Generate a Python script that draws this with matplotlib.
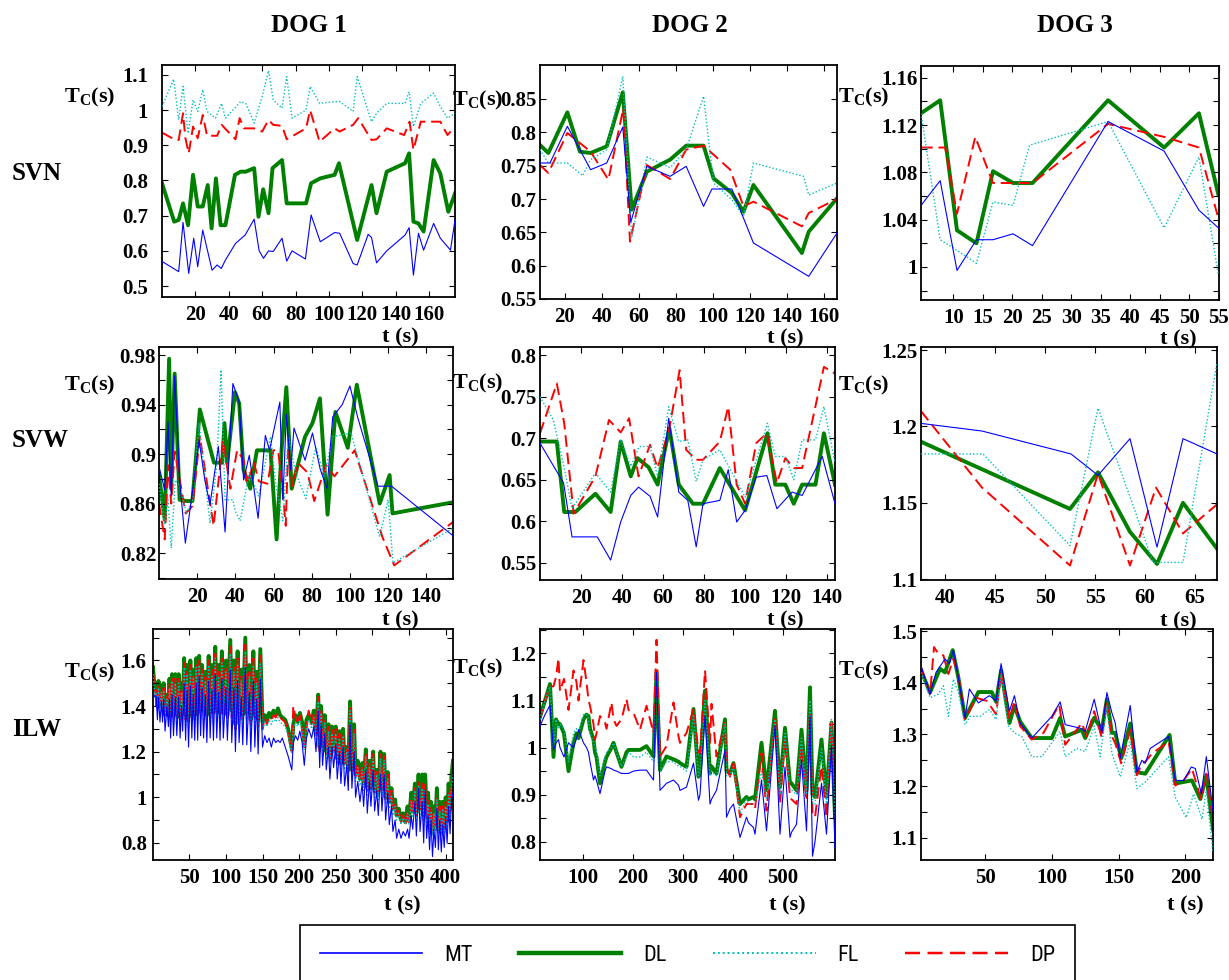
import matplotlib
matplotlib.use("Agg")
import matplotlib.pyplot as plt
from matplotlib.lines import Line2D
from matplotlib.font_manager import FontProperties

W, H = 1229, 980

# ---------------- data ----------------
# DOG 1 / SVN
d1_svn_mt_t = [0, 10, 12.6, 16, 19, 21.4, 24.4, 30, 33, 35.5, 38, 44, 49.8, 55.2, 58.2, 60.8, 63.8, 66.6, 71.9, 74.7,
               77.9, 85.9, 89.3, 94.8, 103.4, 106.4, 114.5, 116.9, 123.5, 125.5, 128.5, 134.6, 145.6, 148, 150.6, 153.6,
               156.7, 162.7, 166.7, 172.8, 175.5]
d1_svn_mt = [0.57, 0.541, 0.681, 0.536, 0.636, 0.555, 0.659, 0.545, 0.56, 0.55, 0.574, 0.621, 0.645, 0.69, 0.6, 0.579,
             0.6, 0.598, 0.636, 0.571, 0.6, 0.577, 0.702, 0.626, 0.652, 0.65, 0.564, 0.56, 0.647, 0.638, 0.566, 0.6,
             0.645, 0.666, 0.531, 0.65, 0.602, 0.678, 0.636, 0.602, 0.688]
d1_svn_dl_t = [0, 7.3, 10, 12.6, 15.6, 18.6, 21.4, 24.4, 27.4, 29.7, 32.3, 35.1, 38, 43.7, 47.1, 50.2, 55.2, 57.8, 60.6,
               63.8, 66.2, 71.9, 74.7, 86.3, 89.3, 94.8, 103.4, 106, 116.9, 125.5, 128.5, 134.6, 145.6, 148, 150.6,
               153.6, 156.7, 162.7, 166.7, 171.5, 175.5]
d1_svn_dl = [0.792, 0.683, 0.688, 0.735, 0.673, 0.816, 0.726, 0.726, 0.787, 0.664, 0.806, 0.673, 0.673, 0.816, 0.825,
             0.825, 0.835, 0.697, 0.775, 0.707, 0.835, 0.858, 0.735, 0.735, 0.792, 0.806, 0.816, 0.849, 0.631, 0.787,
             0.707, 0.825, 0.849, 0.877, 0.683, 0.678, 0.655, 0.858, 0.82, 0.711, 0.763]
d1_svn_dp_t = [0, 8, 10, 12.6, 14, 16, 18.6, 21.4, 24.4, 27, 33, 35.7, 44, 46.5, 49, 55.2, 60, 63.8, 66.6, 71.9, 74.7,
               86.3, 88.7, 94.4, 103.4, 106.4, 114.5, 117.5, 125.5, 128.5, 134.6, 145, 148.3, 150.6, 155, 166.7, 171,
               175.5]
d1_svn_dp = [0.936, 0.915, 0.915, 0.991, 0.920, 0.877, 0.953, 0.920, 0.986, 0.927, 0.927, 0.958, 0.917, 0.977, 0.948,
             0.948, 0.939, 0.972, 0.958, 0.955, 0.917, 0.948, 1.0, 0.910, 0.948, 0.939, 0.958, 0.977, 0.915, 0.917,
             0.948, 0.929, 0.967, 0.887, 0.967, 0.967, 0.929, 0.953]
d1_svn_fl_t = [0, 7, 10, 12.6, 15.6, 18.6, 21.4, 24.4, 27, 32, 35.7, 38, 47.1, 50.2, 55.2, 60, 63.8, 66.6, 71.9, 74.7,
               77.9, 86.3, 88.7, 94.4, 103.4, 106.4, 114.5, 116.9, 125.5, 128.5, 134.6, 145.6, 148, 150.6, 155, 162.7,
               166.7, 171, 175.5]
d1_svn_fl = [1.01, 1.088, 0.972, 1.067, 0.934, 1.029, 0.996, 1.058, 0.996, 0.977, 1.019, 0.977, 1.024, 1.019, 0.963,
             1.039, 1.112, 1.029, 1.005, 1.095, 0.977, 1.0, 1.067, 1.019, 1.024, 1.024, 0.996, 1.095, 0.967, 0.991,
             1.019, 1.019, 1.052, 0.953, 1.019, 1.048, 1.01, 0.977, 0.99]

# DOG 2 / SVN
d2_svn_mt_t = [6.5, 11.9, 21.3, 33.9, 42.6, 51.3, 55.6, 64.3, 76.9, 85.6, 95, 99.5, 110.3, 122, 151.9, 167.2]
d2_svn_mt = [0.754, 0.754, 0.809, 0.744, 0.754, 0.808, 0.665, 0.749, 0.734, 0.749, 0.689, 0.715, 0.715, 0.634, 0.584,
             0.649]
d2_svn_dl_t = [6.5, 11, 21.3, 28.1, 33.9, 42.6, 51.3, 56.1, 64.3, 76.9, 85.6, 95, 100.4, 110.3, 116.6, 122, 148.2,
               151.9, 167.2]
d2_svn_dl = [0.781, 0.769, 0.83, 0.771, 0.769, 0.779, 0.86, 0.684, 0.741, 0.759, 0.78, 0.78, 0.731, 0.709, 0.681,
             0.721, 0.619, 0.651, 0.701]
d2_svn_dp_t = [6.5, 11, 21.3, 33.9, 43.5, 51.6, 55.2, 64.3, 76.9, 85.6, 95, 109.4, 116.6, 122, 148.2, 151.9, 167.2]
d2_svn_dp = [0.751, 0.739, 0.799, 0.771, 0.729, 0.836, 0.636, 0.751, 0.73, 0.774, 0.78, 0.744, 0.689, 0.696, 0.659,
             0.679, 0.7]
d2_svn_fl_t = [6.5, 11, 21.3, 29.6, 33.9, 42.6, 51.3, 56.1, 64.3, 76.9, 85.6, 95, 100.4, 110.3, 116.6, 122, 149.1,
               151.9, 167.2]
d2_svn_fl = [0.774, 0.754, 0.754, 0.735, 0.759, 0.774, 0.884, 0.642, 0.763, 0.747, 0.774, 0.854, 0.724, 0.699, 0.674,
             0.754, 0.734, 0.706, 0.724]

# DOG 3 / SVN
d3_svn_mt_t = [4.5, 7.75, 10.6, 13.9, 16.7, 20.1, 23.4, 36.2, 45.7, 51.6, 54.9]
d3_svn_mt = [1.052, 1.073, 0.997, 1.023, 1.023, 1.028, 1.018, 1.123, 1.098, 1.048, 1.033]
d3_svn_dl_t = [4.5, 7.75, 10.6, 13.9, 16.7, 20.1, 23.4, 36.2, 45.7, 51.6, 54.9]
d3_svn_dl = [1.130, 1.141, 1.031, 1.02, 1.081, 1.071, 1.071, 1.141, 1.101, 1.13, 1.061]
d3_svn_dp_t = [4.5, 8.6, 10.6, 13.7, 16.7, 23.4, 36.2, 45.7, 51.6, 54.9]
d3_svn_dp = [1.101, 1.101, 1.045, 1.110, 1.071, 1.071, 1.121, 1.110, 1.101, 1.041]
d3_svn_fl_t = [4.5, 7.75, 10.6, 13.9, 16.7, 20.1, 22.9, 36.2, 45.7, 51.6, 54.9]
d3_svn_fl = [1.130, 1.023, 1.014, 1.003, 1.055, 1.052, 1.103, 1.123, 1.033, 1.093, 0.993]

# DOG 1 / SVW
d1_svw_mt_t = [0, 3, 4.7, 6.4, 8.2, 10.8, 13.8, 17.4, 21, 24, 26.7, 31.1, 34.6, 38.7, 42, 44.3, 47.3, 51.9, 55.7,
               57.9, 63.3, 64.9, 66.7, 69, 70.7, 76.5, 80.4, 84.4, 88, 91, 96, 100, 104, 114.7, 121.8, 154]
d1_svw_mt = [0.890, 0.871, 0.926, 0.866, 0.963, 0.879, 0.828, 0.868, 0.911, 0.879, 0.859, 0.906, 0.837, 0.957, 0.942,
             0.879, 0.899, 0.848, 0.915, 0.903, 0.942, 0.863, 0.932, 0.887, 0.921, 0.895, 0.917, 0.888, 0.872, 0.93,
             0.94, 0.955, 0.93, 0.874, 0.874, 0.834]
d1_svw_dl_t = [0, 3, 5.3, 6.4, 8.2, 10.8, 14.4, 17.5, 21.4, 28.8, 33.1, 34.3, 35.7, 39.8, 42, 44.3, 47.8, 51.3, 58.4,
               61.6, 64.2, 66.7, 69.5, 76.5, 80.4, 84.3, 88.3, 92.4, 98.9, 103.6, 115.6, 120.8, 122.3, 154]
d1_svw_dl = [0.883, 0.847, 0.977, 0.872, 0.965, 0.863, 0.862, 0.862, 0.936, 0.893, 0.893, 0.925, 0.893, 0.950, 0.941,
             0.887, 0.872, 0.903, 0.903, 0.831, 0.903, 0.954, 0.872, 0.914, 0.925, 0.945, 0.851, 0.934, 0.905, 0.956,
             0.86, 0.883, 0.852, 0.861]
d1_svw_dp_t = [0, 3, 4.7, 6.4, 8.2, 14, 17.5, 21.4, 28.6, 33.5, 37.4, 40.9, 44.4, 46.2, 49.7, 52.3, 56.8, 59.9, 62.4,
               65.2, 66.4, 67.6, 69.9, 72.6, 77.8, 81.3, 87.5, 91.9, 102.5, 117, 123.2, 154]
d1_svw_dp = [0.86, 0.831, 0.891, 0.86, 0.902, 0.852, 0.858, 0.914, 0.842, 0.911, 0.872, 0.903, 0.895, 0.876, 0.893,
             0.878, 0.876, 0.903, 0.903, 0.863, 0.842, 0.903, 0.874, 0.893, 0.885, 0.862, 0.891, 0.882, 0.903, 0.833,
             0.81, 0.845]
d1_svw_fl_t = [0, 3, 4.7, 6.4, 8.5, 10.8, 14.4, 17.5, 21, 26.7, 30.2, 32.5, 34.6, 38.7, 39.9, 42.5, 47.3, 52.2, 58.4,
               61.3, 64.9, 67.7, 71.6, 76.9, 82.1, 86.5, 90.9, 100.6, 115.6, 120, 122.6, 154]
d1_svw_fl = [0.876, 0.843, 0.863, 0.824, 0.879, 0.875, 0.852, 0.862, 0.925, 0.844, 0.89, 0.968, 0.863, 0.863, 0.854,
             0.846, 0.885, 0.866, 0.914, 0.874, 0.846, 0.914, 0.885, 0.864, 0.906, 0.882, 0.914, 0.917, 0.833, 0.863,
             0.812, 0.84]

# DOG 2 / SVW
d2_svw_mt_t = [0, 11.5, 15.6, 27.9, 34.4, 39.3, 44.2, 48, 53.6, 57.3, 62.7, 67.6, 72, 76.1, 79.4, 87.6, 91.7, 95.8,
               99.9, 105.3, 110.5, 115.4, 122.8, 127.7, 137.5, 143.7]
d2_svw_mt = [0.694, 0.646, 0.581, 0.581, 0.553, 0.599, 0.631, 0.641, 0.630, 0.605, 0.724, 0.635, 0.625, 0.569, 0.621,
             0.625, 0.662, 0.599, 0.613, 0.653, 0.655, 0.615, 0.635, 0.631, 0.678, 0.621]
d2_svw_dl_t = [0, 8.2, 11.8, 17.2, 27, 34.4, 39.3, 44.2, 47.5, 52.9, 57.3, 63, 67.6, 74.5, 79.4, 87.6, 94.1, 99.9,
               110.8, 114.6, 119.5, 123.6, 127.7, 134.2, 138.3, 143.7]
d2_svw_dl = [0.696, 0.696, 0.611, 0.611, 0.633, 0.611, 0.696, 0.654, 0.676, 0.665, 0.644, 0.712, 0.644, 0.621, 0.621,
             0.664, 0.637, 0.613, 0.706, 0.644, 0.644, 0.621, 0.644, 0.644, 0.706, 0.644]
d2_svw_dp_t = [0, 8.2, 11.8, 16.4, 27, 33.6, 39.3, 43.4, 48, 53.6, 57.3, 63, 68, 71.2, 76.1, 79.4, 87.6, 91.7, 95.8,
               99.9, 105.3, 110.5, 115.4, 119.5, 123.6, 127.7, 138.3, 143.7]
d2_svw_dp = [0.706, 0.766, 0.718, 0.609, 0.654, 0.722, 0.707, 0.724, 0.654, 0.692, 0.664, 0.712, 0.782, 0.686, 0.674,
             0.674, 0.696, 0.738, 0.644, 0.621, 0.694, 0.706, 0.646, 0.676, 0.664, 0.664, 0.786, 0.778]
d2_svw_fl_t = [0, 6.5, 11.5, 15.6, 27, 34.4, 39.3, 44.2, 48.3, 53.6, 57.3, 62.7, 67.6, 72, 76.1, 79.4, 87.6, 94.1,
               99.9, 110.8, 114.6, 119.5, 123.6, 127.7, 134.2, 138.3, 143.7]
d2_svw_fl = [0.75, 0.722, 0.668, 0.615, 0.658, 0.635, 0.698, 0.666, 0.69, 0.69, 0.654, 0.738, 0.696, 0.698, 0.648,
             0.674, 0.686, 0.656, 0.629, 0.718, 0.678, 0.678, 0.65, 0.698, 0.698, 0.738, 0.67]

# DOG 3 / SVW
d3_svw_mt_t = [37.6, 43.7, 52.6, 55.3, 58.5, 61.2, 63.8, 67.2]
d3_svw_mt = [1.202, 1.197, 1.182, 1.168, 1.192, 1.121, 1.192, 1.182]
d3_svw_dl_t = [37.6, 52.5, 55.3, 58.5, 61.2, 63.8, 67.2]
d3_svw_dl = [1.19, 1.146, 1.17, 1.131, 1.110, 1.15, 1.12]
d3_svw_dp_t = [37.6, 43.7, 52.5, 55.3, 58.5, 61.1, 63.8, 67.2]
d3_svw_dp = [1.21, 1.16, 1.109, 1.169, 1.109, 1.16, 1.13, 1.149]
d3_svw_fl_t = [37.6, 43.8, 52.5, 55.3, 58.5, 60.8, 63.8, 67.2]
d3_svw_fl = [1.182, 1.182, 1.122, 1.212, 1.154, 1.111, 1.111, 1.242]

# DOG 1 / ILW (all four methods share the beat times)
d1_ilw_t = [0.5, 3, 5, 6.5, 8, 10, 12, 13.5, 15, 17, 19.5, 21.5, 23, 24.5, 26.5, 28.5, 31, 33, 35.5, 37.5,
            39.5, 41, 43, 45, 47, 49, 51.5, 53.5, 55.5, 57.5, 59.5, 61.5, 63.5, 65.5, 67.5, 69.5, 72, 74, 76.5, 78.5,
            81, 83, 85.5, 87.5, 90, 92, 94.5, 96.5, 100, 102, 106, 108, 111, 113, 116, 118, 121, 123, 126.5, 128.5,
            132, 134, 137.5, 139.5, 142, 144, 147, 150,
            153, 156, 159, 162, 165, 168, 171, 174, 177, 181, 185, 190, 192, 195, 198, 201, 204, 207, 210, 213,
            217, 220, 223, 226, 228, 230, 232, 235, 237, 240, 242, 245, 247, 250, 252, 255, 257, 260, 262, 265,
            267, 269.5, 272, 275, 277, 280, 283, 286, 288, 291, 293, 296, 298, 301, 303, 306, 308, 311, 313, 316,
            318, 321, 323, 326, 328, 331, 333, 336, 339, 342, 345, 348, 350, 353, 355, 358, 360, 363, 365, 368,
            370, 372, 374, 376, 378, 380, 382, 384, 386, 388, 390, 392, 394, 396, 398, 400, 402, 404, 406, 408, 410]
d1_ilw_dl = [1.57, 1.47, 1.48, 1.40, 1.51, 1.41, 1.49, 1.40, 1.50, 1.36, 1.45, 1.38, 1.52, 1.36, 1.54, 1.37, 1.54, 1.36,
             1.54, 1.35, 1.50, 1.38, 1.61, 1.36, 1.58, 1.35, 1.60, 1.38, 1.56, 1.36, 1.61, 1.37, 1.62, 1.40, 1.58, 1.38,
             1.55, 1.36, 1.62, 1.38, 1.58, 1.37, 1.66, 1.39, 1.58, 1.37, 1.64, 1.38, 1.60, 1.36, 1.69, 1.38, 1.60, 1.32,
             1.64, 1.37, 1.56, 1.36, 1.70, 1.37, 1.58, 1.34, 1.64, 1.36, 1.55, 1.34, 1.65, 1.33,
             1.36, 1.34, 1.37, 1.35, 1.38, 1.36, 1.39, 1.36, 1.35, 1.34, 1.30, 1.21, 1.32, 1.36, 1.33, 1.37, 1.33, 1.24,
             1.34, 1.36, 1.33, 1.38, 1.28, 1.45, 1.22, 1.40, 1.24, 1.36, 1.20, 1.32, 1.18, 1.31, 1.22, 1.31, 1.17, 1.29,
             1.15, 1.30, 1.15, 1.22, 1.12, 1.42, 1.12, 1.32, 1.10, 1.16, 1.08, 1.15, 1.06, 1.21, 1.04, 1.16, 1.05, 1.20,
             1.03, 1.12, 1.02, 1.20, 1.04, 1.19, 1.00, 1.11, 0.98, 1.04, 0.95, 0.99, 0.92, 0.95, 0.90, 0.93, 0.89, 0.96,
             0.90, 1.02, 0.94, 1.06, 0.93, 1.10, 0.95, 1.10, 0.92, 1.10, 0.94, 1.02, 0.87, 0.98, 0.86, 0.96, 0.88, 1.04,
             0.86, 0.98, 0.85, 0.98, 0.87, 1.00, 0.90, 1.06, 0.95, 1.10, 1.16]
d1_ilw_dp = [1.55, 1.46, 1.47, 1.39, 1.49, 1.40, 1.47, 1.38, 1.48, 1.35, 1.44, 1.36, 1.50, 1.35, 1.52, 1.35, 1.52, 1.34,
             1.52, 1.33, 1.48, 1.36, 1.59, 1.34, 1.55, 1.33, 1.58, 1.35, 1.54, 1.34, 1.59, 1.35, 1.60, 1.38, 1.56, 1.36,
             1.53, 1.34, 1.60, 1.35, 1.56, 1.35, 1.63, 1.36, 1.55, 1.35, 1.61, 1.35, 1.58, 1.34, 1.66, 1.35, 1.57, 1.30,
             1.61, 1.34, 1.53, 1.34, 1.67, 1.34, 1.55, 1.32, 1.61, 1.33, 1.52, 1.31, 1.62, 1.30,
             1.35, 1.32, 1.35, 1.34, 1.36, 1.35, 1.37, 1.35, 1.34, 1.33, 1.29, 1.20, 1.40, 1.35, 1.32, 1.36, 1.32, 1.22,
             1.33, 1.38, 1.32, 1.37, 1.27, 1.44, 1.20, 1.39, 1.22, 1.34, 1.19, 1.31, 1.16, 1.30, 1.20, 1.30, 1.15, 1.28,
             1.14, 1.28, 1.14, 1.21, 1.11, 1.40, 1.11, 1.30, 1.08, 1.15, 1.07, 1.14, 1.05, 1.20, 1.03, 1.15, 1.04, 1.19,
             1.02, 1.11, 1.01, 1.19, 1.03, 1.18, 0.99, 1.10, 0.97, 1.03, 0.94, 0.97, 0.91, 0.94, 0.89, 0.92, 0.88, 0.94,
             0.89, 1.00, 0.92, 1.04, 0.92, 1.07, 0.93, 1.06, 0.90, 1.06, 0.91, 0.99, 0.85, 0.96, 0.84, 0.94, 0.86, 1.01,
             0.85, 0.96, 0.84, 0.96, 0.85, 0.98, 0.88, 1.03, 0.93, 1.07, 1.12]
d1_ilw_fl = [1.54, 1.45, 1.46, 1.38, 1.48, 1.39, 1.46, 1.37, 1.47, 1.34, 1.43, 1.35, 1.48, 1.33, 1.51, 1.33, 1.50, 1.32,
             1.50, 1.31, 1.46, 1.34, 1.57, 1.31, 1.54, 1.30, 1.56, 1.33, 1.52, 1.31, 1.57, 1.32, 1.58, 1.35, 1.54, 1.33,
             1.51, 1.31, 1.58, 1.33, 1.53, 1.32, 1.61, 1.33, 1.53, 1.32, 1.59, 1.32, 1.55, 1.31, 1.63, 1.32, 1.55, 1.27,
             1.58, 1.31, 1.51, 1.31, 1.64, 1.31, 1.53, 1.29, 1.58, 1.30, 1.50, 1.29, 1.59, 1.29,
             1.33, 1.31, 1.34, 1.32, 1.35, 1.33, 1.35, 1.33, 1.32, 1.31, 1.27, 1.19, 1.30, 1.33, 1.31, 1.34, 1.30, 1.21,
             1.31, 1.34, 1.30, 1.35, 1.25, 1.42, 1.19, 1.37, 1.20, 1.33, 1.17, 1.29, 1.15, 1.28, 1.19, 1.28, 1.14, 1.26,
             1.12, 1.27, 1.12, 1.20, 1.09, 1.38, 1.10, 1.28, 1.07, 1.13, 1.05, 1.12, 1.03, 1.18, 1.01, 1.13, 1.02, 1.17,
             1.00, 1.10, 0.99, 1.17, 1.01, 1.16, 0.97, 1.08, 0.95, 1.01, 0.92, 0.96, 0.90, 0.93, 0.88, 0.91, 0.88, 0.93,
             0.88, 0.98, 0.91, 1.03, 0.90, 1.05, 0.91, 1.04, 0.88, 1.03, 0.89, 0.97, 0.84, 0.94, 0.83, 0.93, 0.85, 0.99,
             0.84, 0.94, 0.83, 0.95, 0.84, 0.96, 0.86, 1.01, 0.91, 1.05, 1.10]
d1_ilw_mt = [1.46, 1.44, 1.44, 1.34, 1.44, 1.33, 1.42, 1.33, 1.43, 1.29, 1.40, 1.31, 1.43, 1.26, 1.45, 1.27, 1.44, 1.27,
             1.44, 1.26, 1.40, 1.29, 1.50, 1.25, 1.47, 1.22, 1.49, 1.26, 1.45, 1.25, 1.50, 1.25, 1.53, 1.27, 1.48, 1.26,
             1.45, 1.24, 1.51, 1.26, 1.47, 1.25, 1.54, 1.26, 1.46, 1.25, 1.52, 1.26, 1.48, 1.25, 1.56, 1.24, 1.48, 1.20,
             1.51, 1.24, 1.44, 1.23, 1.57, 1.23, 1.46, 1.20, 1.51, 1.22, 1.43, 1.19, 1.52, 1.22,
             1.27, 1.24, 1.26, 1.22, 1.26, 1.24, 1.25, 1.24, 1.26, 1.22, 1.18, 1.12, 1.24, 1.27, 1.25, 1.29, 1.24, 1.14,
             1.26, 1.30, 1.26, 1.31, 1.20, 1.38, 1.13, 1.32, 1.14, 1.28, 1.12, 1.22, 1.08, 1.22, 1.13, 1.23, 1.08, 1.20,
             1.06, 1.22, 1.05, 1.14, 1.03, 1.32, 1.04, 1.20, 1.00, 1.07, 0.98, 1.06, 0.96, 1.12, 0.93, 1.07, 0.96, 1.12,
             0.94, 1.03, 0.92, 1.10, 0.94, 1.10, 0.90, 1.02, 0.88, 0.96, 0.85, 0.90, 0.82, 0.86, 0.82, 0.85, 0.83, 0.86,
             0.82, 0.92, 0.86, 0.98, 0.83, 1.04, 0.85, 0.98, 0.80, 1.03, 0.82, 0.92, 0.77, 0.90, 0.74, 0.86, 0.78, 0.95,
             0.77, 0.90, 0.76, 0.88, 0.78, 0.91, 0.80, 0.96, 0.84, 0.99, 1.02]

# DOG 2 / ILW
d2_ilw_t = [14, 24, 34, 41, 46, 51, 54, 62, 71, 81, 87, 91, 101, 107, 111, 114, 121, 124, 127, 134,
            144, 147, 157, 161, 167, 177, 187, 191, 201, 214, 227, 241, 247, 254, 267, 281, 291, 294, 307, 321,
            331, 334, 344, 354, 357, 367, 384, 387, 394, 401, 414, 427, 431, 441, 444, 457, 467, 484, 494, 504,
            514, 517, 527, 537, 547, 554, 559, 564, 577, 587, 597, 604]
d2_ilw_dl = [1.065, 1.10, 1.135, 0.98, 1.06, 1.05, 1.05, 1.03, 0.95, 1.01, 1.03, 1.02, 1.06, 1.07, 1.067, 1.04, 1.017,
             0.99, 0.98, 0.924, 0.97, 0.98, 1.00, 1.01, 0.99, 0.959, 0.99, 0.995, 0.995, 0.995, 1.003, 0.981, 1.16,
             0.952, 0.981, 0.975, 0.97, 0.967, 0.959, 1.082, 0.938, 0.95, 1.121, 0.945, 0.96, 0.945, 1.06, 0.95, 0.945,
             0.967, 0.88, 0.895, 0.89, 0.895, 0.89, 1.01, 0.909, 1.078, 0.916, 1.042, 0.924, 0.924, 0.909, 1.038,
             0.909, 1.128, 0.90, 0.895, 1.017, 0.895, 1.053, 0.852]
d2_ilw_dp = [1.06, 1.10, 1.13, 1.13, 1.15, 1.19, 1.12, 1.146, 1.08, 1.164, 1.139, 1.10, 1.186, 1.139, 1.10, 1.089,
             1.05, 1.017, 1.03, 1.067, 1.053, 1.04, 1.096, 1.06, 1.046, 1.06, 1.103, 1.08, 1.074, 1.038, 1.089, 1.031,
             1.229, 0.981, 1.003, 1.096, 1.024, 1.01, 1.031, 1.082, 0.99, 0.988, 1.164, 1.01, 1.093, 0.981, 1.053,
             0.96, 0.938, 0.967, 0.852, 0.88, 0.88, 0.88, 0.87, 0.988, 0.866, 1.067, 0.88, 1.017, 0.895, 0.89, 0.88,
             1.003, 0.887, 1.074, 0.86, 0.852, 0.96, 0.852, 1.053, 0.837]
d2_ilw_fl = [1.06, 1.10, 1.13, 1.00, 1.06, 1.04, 1.05, 1.04, 0.97, 1.03, 1.04, 1.03, 1.07, 1.07, 1.06, 1.03, 1.01, 1.0,
             0.99, 0.94, 0.98, 0.99, 1.00, 1.01, 0.99, 0.96, 0.98, 0.99, 0.98, 0.98, 0.99, 0.97, 1.16, 0.95, 0.97, 0.97,
             0.96, 0.96, 0.95, 1.07, 0.94, 0.945, 1.10, 0.94, 0.95, 0.94, 1.05, 0.94, 0.94, 0.96, 0.86, 0.89, 0.88,
             0.88, 0.88, 0.95, 0.89, 1.06, 0.90, 1.03, 0.91, 0.91, 0.90, 1.02, 0.90, 1.10, 0.88, 0.88, 1.00, 0.88,
             1.06, 0.85]
d2_ilw_mt = [1.046, 1.07, 1.09, 0.995, 1.01, 1.017, 1.00, 0.98, 1.01, 1.00, 1.02, 1.038, 1.01, 1.00, 0.99, 0.97,
             0.931, 0.94, 0.93, 0.902, 0.95, 0.959, 0.955, 0.952, 0.95, 0.945, 0.945, 0.945, 0.95, 0.952, 0.952,
             0.931, 1.16, 0.909, 0.924, 0.931, 0.92, 0.909, 0.916, 0.967, 0.888, 0.90, 1.067, 0.88, 0.89, 0.909,
             0.995, 0.852, 0.87, 0.88, 0.809, 0.852, 0.84, 0.83, 0.816, 0.931, 0.823, 1.046, 0.816, 0.959, 0.809,
             0.82, 0.837, 0.974, 0.823, 1.067, 0.769, 0.80, 0.924, 0.816, 1.003, 0.787]

# DOG 3 / ILW
d3_ilw_mt_t = [2, 8.75, 13.25, 20, 23.25, 26.25, 30, 35, 38.25, 45, 53.25, 58.25, 62, 68.25, 72, 76.25, 85, 100,
               106.25, 110, 121.25, 125, 131.75, 137.5, 141.25, 145, 147.5, 151.25, 158.75, 163.75, 167.5, 170,
               173.75, 187.5, 192.5, 198.75, 204.5, 207.5, 212, 215.75, 220.75]
d3_ilw_mt = [1.433, 1.378, 1.420, 1.446, 1.437, 1.463, 1.41, 1.332, 1.388, 1.361, 1.375, 1.365, 1.437, 1.345, 1.375,
             1.322, 1.293, 1.335, 1.363, 1.319, 1.312, 1.306, 1.368, 1.303, 1.381, 1.342, 1.322, 1.254, 1.356, 1.227,
             1.250, 1.244, 1.273, 1.296, 1.211, 1.211, 1.237, 1.234, 1.185, 1.257, 1.152]
d3_ilw_dl_t = [2, 8.75, 16.25, 20, 25.75, 30, 35, 45, 55, 58.25, 62, 68.25, 72, 76.25, 85, 100, 106.25, 110, 122.5,
               125, 131.75, 137.5, 141.25, 145, 147.5, 152, 158.75, 163.75, 170, 188.25, 192.5, 198.75, 205, 211.25,
               215.75, 220.75]
d3_ilw_dl = [1.424, 1.381, 1.427, 1.42, 1.463, 1.41, 1.332, 1.382, 1.382, 1.363, 1.424, 1.322, 1.355, 1.325, 1.293,
             1.293, 1.332, 1.296, 1.309, 1.293, 1.332, 1.309, 1.368, 1.303, 1.303, 1.254, 1.321, 1.227, 1.224, 1.299,
             1.205, 1.208, 1.211, 1.175, 1.221, 1.116]
d3_ilw_dp_t = [2, 8.75, 11.75, 15, 18.75, 22.5, 26.25, 30, 35, 43.25, 51.25, 58.25, 62, 68.25, 72, 76.25, 85, 93.75,
               105.5, 110, 122.5, 126.25, 131.75, 137.5, 140.75, 145, 147.5, 152, 158.75, 163.75, 167.5, 170, 175,
               187.5, 192.5, 196.25, 198.75, 205, 211.75, 215.75, 220.75]
d3_ilw_dp = [1.43, 1.378, 1.469, 1.456, 1.453, 1.417, 1.446, 1.414, 1.329, 1.371, 1.365, 1.339, 1.42, 1.329, 1.365,
             1.316, 1.29, 1.303, 1.358, 1.28, 1.322, 1.296, 1.345, 1.293, 1.365, 1.296, 1.283, 1.244, 1.309, 1.221,
             1.244, 1.247, 1.263, 1.286, 1.201, 1.208, 1.211, 1.234, 1.175, 1.224, 1.133]
d3_ilw_fl_t = [2, 8.75, 15, 18.75, 22.5, 26.25, 30, 35, 38.75, 46.25, 53.25, 58.25, 62, 67.5, 72, 77.5, 85, 92.5,
               106.25, 110, 118.75, 125, 131.75, 136.25, 141.25, 145, 151.25, 158.75, 163.75, 170, 187.5, 192.5,
               200.75, 206.25, 212.5, 215.75, 220.75]
d3_ilw_fl = [1.42, 1.371, 1.378, 1.394, 1.335, 1.407, 1.381, 1.319, 1.335, 1.335, 1.348, 1.329, 1.417, 1.316, 1.303,
             1.296, 1.257, 1.257, 1.306, 1.257, 1.273, 1.267, 1.316, 1.257, 1.355, 1.263, 1.218, 1.286, 1.195, 1.208,
             1.257, 1.178, 1.139, 1.185, 1.136, 1.192, 1.071]

dogs = ["DOG 1", "DOG 2", "DOG 3"]
rows = ["SVN", "SVW", "ILW"]
methods = ["MT", "DL", "FL", "DP"]

# ---------------- styles / layout ----------------
STYLE = {
    "MT": dict(color="#0000ff", lw=0.8, ls="-", zorder=4),
    "DL": dict(color="#008000", lw=2.8, ls="-", zorder=1),
    "FL": dict(color="#00bfbf", lw=1.0, ls=(0, (1, 1.5)), zorder=3),
    "DP": dict(color="#ff0000", lw=1.4, ls=(0, (6, 3)), zorder=2),
}

# axes boxes in pixels: left, top, right, bottom
boxes = [
    [(162, 65, 455, 297), (540, 65, 837, 299), (921, 66, 1219, 300)],
    [(159, 347, 453, 579), (540, 347, 835, 580), (921, 347, 1217, 580)],
    [(153, 629, 453, 860), (540, 629, 835, 860), (921, 629, 1213, 860)],
]


def frac(x, y):
    return x / W, 1 - y / H


def draw_panel(ax, series, xlim, ylim, xt, yt_major, yt_minor, ypad):
    for m in ["DL", "DP", "FL", "MT"]:
        t, v = series[m]
        st = STYLE[m]
        ax.plot(t, v, color=st["color"], lw=st["lw"], ls=st["ls"], zorder=st["zorder"])
    ax.set_xlim(*xlim)
    ax.set_ylim(*ylim)
    ax.set_xticks(xt, labels=[f"{v:g}" for v in xt])
    ax.set_yticks(yt_major, labels=[f"{v:g}" for v in yt_major])
    ax.set_yticks(yt_minor, minor=True)
    ax.tick_params(which="both", direction="in", top=True, right=True, length=4, width=0.8)
    ax.tick_params(axis="x", labelsize=15, pad=6)
    ax.tick_params(axis="y", labelsize=15, pad=ypad)
    for sp in ax.spines.values():
        sp.set_linewidth(1.3)


def main():
    plt.rcParams["font.family"] = ["Liberation Serif", "DejaVu Serif"]
    plt.rcParams["font.weight"] = "bold"
    plt.rcParams["mathtext.fontset"] = "custom"
    plt.rcParams["mathtext.bf"] = "Liberation Serif:bold"
    plt.rcParams["mathtext.rm"] = "Liberation Serif:bold"

    fig = plt.figure(figsize=(W / 100, H / 100), dpi=100)

    panels = [
        [
            dict(series={"MT": (d1_svn_mt_t, d1_svn_mt), "DL": (d1_svn_dl_t, d1_svn_dl),
                         "FL": (d1_svn_fl_t, d1_svn_fl), "DP": (d1_svn_dp_t, d1_svn_dp)},
                 xlim=(0, 175.5), ylim=(0.469, 1.128), xt=list(range(20, 161, 20)),
                 ym=[0.5, 0.6, 0.7, 0.8, 0.9, 1.0, 1.1], yn=[], ypad=10),
            dict(series={"MT": (d2_svn_mt_t, d2_svn_mt), "DL": (d2_svn_dl_t, d2_svn_dl),
                         "FL": (d2_svn_fl_t, d2_svn_fl), "DP": (d2_svn_dp_t, d2_svn_dp)},
                 xlim=(6.5, 167.2), ylim=(0.55, 0.901), xt=list(range(20, 161, 20)),
                 ym=[0.55, 0.6, 0.65, 0.7, 0.75, 0.8, 0.85], yn=[], ypad=2.5),
            dict(series={"MT": (d3_svn_mt_t, d3_svn_mt), "DL": (d3_svn_dl_t, d3_svn_dl),
                         "FL": (d3_svn_fl_t, d3_svn_fl), "DP": (d3_svn_dp_t, d3_svn_dp)},
                 xlim=(4.5, 54.9), ylim=(0.972, 1.17), xt=list(range(10, 56, 5)),
                 ym=[1.0, 1.04, 1.08, 1.12, 1.16], yn=[0.98, 1.02, 1.06, 1.10, 1.14], ypad=2.5),
        ],
        [
            dict(series={"MT": (d1_svw_mt_t, d1_svw_mt), "DL": (d1_svw_dl_t, d1_svw_dl),
                         "FL": (d1_svw_fl_t, d1_svw_fl), "DP": (d1_svw_dp_t, d1_svw_dp)},
                 xlim=(0, 154), ylim=(0.799, 0.9865), xt=list(range(20, 141, 20)),
                 ym=[0.82, 0.86, 0.9, 0.94, 0.98], yn=[0.80, 0.84, 0.88, 0.92, 0.96], ypad=2),
            dict(series={"MT": (d2_svw_mt_t, d2_svw_mt), "DL": (d2_svw_dl_t, d2_svw_dl),
                         "FL": (d2_svw_fl_t, d2_svw_fl), "DP": (d2_svw_dp_t, d2_svw_dp)},
                 xlim=(0, 143.7), ylim=(0.529, 0.81), xt=list(range(20, 141, 20)),
                 ym=[0.55, 0.6, 0.65, 0.7, 0.75, 0.8], yn=[], ypad=2.5),
            dict(series={"MT": (d3_svw_mt_t, d3_svw_mt), "DL": (d3_svw_dl_t, d3_svw_dl),
                         "FL": (d3_svw_fl_t, d3_svw_fl), "DP": (d3_svw_dp_t, d3_svw_dp)},
                 xlim=(37.6, 67.2), ylim=(1.0995, 1.252), xt=list(range(40, 66, 5)),
                 ym=[1.1, 1.15, 1.2, 1.25], yn=[], ypad=2.5),
        ],
        [
            dict(series={"MT": (d1_ilw_t, d1_ilw_mt), "DL": (d1_ilw_t, d1_ilw_dl),
                         "FL": (d1_ilw_t, d1_ilw_fl), "DP": (d1_ilw_t, d1_ilw_dp)},
                 xlim=(0.5, 410), ylim=(0.725, 1.738), xt=list(range(50, 401, 50)),
                 ym=[0.8, 1.0, 1.2, 1.4, 1.6], yn=[0.9, 1.1, 1.3, 1.5, 1.7], ypad=4.5),
            dict(series={"MT": (d2_ilw_t, d2_ilw_mt), "DL": (d2_ilw_t, d2_ilw_dl),
                         "FL": (d2_ilw_t, d2_ilw_fl), "DP": (d2_ilw_t, d2_ilw_dp)},
                 xlim=(14, 604), ylim=(0.761, 1.252), xt=list(range(100, 501, 100)),
                 ym=[0.8, 0.9, 1.0, 1.1, 1.2], yn=[0.85, 0.95, 1.05, 1.15, 1.25], ypad=2.5),
            dict(series={"MT": (d3_ilw_mt_t, d3_ilw_mt), "DL": (d3_ilw_dl_t, d3_ilw_dl),
                         "FL": (d3_ilw_fl_t, d3_ilw_fl), "DP": (d3_ilw_dp_t, d3_ilw_dp)},
                 xlim=(2, 220.75), ylim=(1.057, 1.504), xt=list(range(50, 201, 50)),
                 ym=[1.1, 1.2, 1.3, 1.4, 1.5], yn=[1.15, 1.25, 1.35, 1.45], ypad=2.5),
        ],
    ]

    # label positions (pixels)
    tc_pos = [[(90, 97), (478, 100), (864, 97)],
              [(90, 385), (478, 383), (864, 385)],
              [(90, 672), (478, 668), (864, 670)]]
    ts_pos = [[(400, 337), (785, 338), (1178, 339)],
              [(400, 620), (785, 620), (1178, 621)],
              [(402, 905), (787, 905), (1185, 905)]]

    for r in range(3):
        for c in range(3):
            l, t, rr, b = boxes[r][c]
            ax = fig.add_axes([l / W, 1 - b / H, (rr - l) / W, (b - t) / H])
            p = panels[r][c]
            draw_panel(ax, p["series"], p["xlim"], p["ylim"], p["xt"], p["ym"], p["yn"], p["ypad"])
            x, y = frac(*tc_pos[r][c])
            fig.text(x, y, r"$\mathbf{T_C(s)}$", ha="center", va="center", fontsize=16)
            x, y = frac(*ts_pos[r][c])
            fig.text(x, y, "t (s)", ha="center", va="center", fontsize=16, fontweight="bold")

    for name, xc in zip(dogs, [309, 690, 1075]):
        x, y = frac(xc, 25)
        fig.text(x, y, name, ha="center", va="center", fontsize=18, fontweight="bold")
    for name, yc in zip(rows, [173, 440, 729]):
        x, y = frac(12, yc)
        fig.text(x, y, name, ha="left", va="center", fontsize=18, fontweight="bold")

    handles = [Line2D([], [], color=STYLE[m]["color"], lw=STYLE[m]["lw"] + 0.4, ls=STYLE[m]["ls"]) for m in methods]
    x0, y0 = frac(300, 925)
    leg_font = FontProperties(family=["Liberation Sans Narrow", "Roboto Condensed", "Liberation Sans"],
                              size=16, weight="normal")
    leg = fig.legend(handles, methods, loc="upper left", bbox_to_anchor=(x0, y0, 775 / W, 0.0),
                     mode="expand", ncol=4, handlelength=4.6, handletextpad=1.0, borderpad=0.9,
                     borderaxespad=0.0, fancybox=False, edgecolor="black", framealpha=1, prop=leg_font)
    leg.get_frame().set_linewidth(1.2)

    fig.savefig("out.png", dpi=100)


if __name__ == "__main__":
    main()
